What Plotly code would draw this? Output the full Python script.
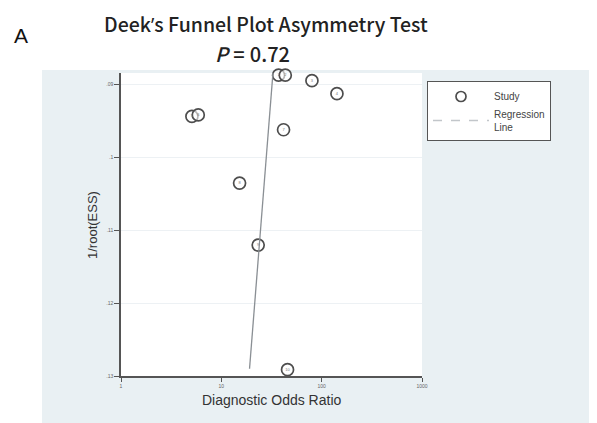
import plotly.graph_objects as go

# Data
study_dor = [37.2, 43.4, 80.0, 142.0, 5.09, 5.89, 41.7, 15.2, 23.3, 45.7]
study_inv_sqrt_ess = [0.0887, 0.0887, 0.08945, 0.09124, 0.09436, 0.09416, 0.09619, 0.10351, 0.11203, 0.12913]
study_labels = ["1", "2", "3", "4", "5", "6", "7", "8", "9", "10"]

reg_dor = [34.2, 19.1]
reg_inv_sqrt_ess = [0.085, 0.129]

x_tickvals = [1, 10, 100, 1000]
x_ticktext = ["1", "10", "100", "1000"]
y_tickvals = [0.09, 0.10, 0.11, 0.12, 0.13]
y_ticktext = [".09", ".1", ".11", ".12", ".13"]

fig = go.Figure()

fig.add_trace(go.Scatter(
    x=study_dor, y=study_inv_sqrt_ess, mode="markers+text",
    text=study_labels, textposition="middle center",
    textfont=dict(size=4, color="#777777", family="Liberation Sans"),
    marker=dict(symbol="circle", size=12, color="rgba(255,255,255,0.6)",
                line=dict(color="#4d4d4d", width=1.7)),
    name="Study", showlegend=False, cliponaxis=False,
))
fig.add_trace(go.Scatter(
    x=[None], y=[None], mode="markers",
    marker=dict(symbol="circle-open", size=10, color="#4d4d4d", line=dict(width=1.7)),
    name="Study", showlegend=True,
))
fig.add_trace(go.Scatter(
    x=reg_dor, y=reg_inv_sqrt_ess, mode="lines",
    line=dict(color="#8a8f94", width=1.3),
    name="Regression Line", showlegend=False,
))
fig.add_trace(go.Scatter(
    x=[None], y=[None], mode="lines",
    line=dict(color="#c2c6ca", width=1.3, dash="dash"),
    name="Regression<br>Line", showlegend=True,
))

OFF = 8  # page body margin
W, H = 597, 423
# desired page-pixel geometry of the plot area
P_L, P_R, P_T, P_B = 121, 422, 73, 376
L, T = P_L - OFF, P_T - OFF
R = W - (P_R - OFF)
B = H - (P_B - OFF)
pw, ph = W - L - R, H - T - B

def px_x(p):
    return (p - OFF - L) / pw

def px_y(p):
    return (H - B - (p - OFF)) / ph

panel = "#e9f0f3"
fig.add_shape(type="rect", xref="paper", yref="paper",
              x0=px_x(42), x1=px_x(640), y0=px_y(460), y1=px_y(70),
              fillcolor=panel, line=dict(width=0), layer="below")
fig.add_shape(type="rect", xref="paper", yref="paper",
              x0=0, x1=1, y0=0, y1=1,
              fillcolor="white", line=dict(width=0), layer="below")

fig.update_xaxes(type="log", range=[0, 3], tickvals=x_tickvals, ticktext=x_ticktext,
                 showgrid=False, zeroline=False, showline=True, linecolor="#555555",
                 linewidth=1.5, ticks="outside", ticklen=4, tickcolor="#555555",
                 tickfont=dict(size=5, color="#666666", family="Liberation Sans"))
fig.update_yaxes(range=[0.13, 0.0884], tickvals=y_tickvals, ticktext=y_ticktext,
                 showgrid=True, gridcolor="#edf1f4", gridwidth=1, zeroline=False,
                 showline=True, linecolor="#555555", linewidth=1.5,
                 ticks="outside", ticklen=5, tickcolor="#555555",
                 tickfont=dict(size=5, color="#666666", family="Liberation Sans"))

title_font = dict(size=19.5, color="#222222", family="Noto Sans CJK SC", weight=500)
p_font = dict(size=20, color="#222222", family="Noto Sans CJK SC", weight=500)
sp = "<span style=\"font-family:Open Sans\"> </span>"
annotations = [
    dict(text="A", x=px_x(21), y=px_y(36), font=dict(size=21, color="#111111", family="Liberation Sans")),
    dict(text="Deek<span style=\"font-family:Open Sans\">’</span>s Funnel Plot Asymmetry Test",
         x=px_x(266), y=px_y(23), font=title_font),
    dict(text="<i>P</i>" + sp + "=" + sp + "0.72", x=px_x(252), y=px_y(53), font=p_font),
    dict(text="Diagnostic Odds Ratio", x=px_x(272), y=px_y(400),
         font=dict(size=14, color="#333333", family="Liberation Sans")),
    dict(text="1/root(ESS)", x=px_x(92), y=px_y(225), textangle=-90,
         font=dict(size=13, color="#333333", family="Liberation Sans")),
]
for a in annotations:
    a.update(xref="paper", yref="paper", showarrow=False, xanchor="center", yanchor="middle")
fig.update_layout(annotations=annotations)

fig.update_layout(
    width=W, height=H, autosize=False,
    margin=dict(l=L, r=R, t=T, b=B, pad=0),
    paper_bgcolor="white", plot_bgcolor="white",
    showlegend=True,
    legend=dict(x=px_x(427), y=px_y(81), xanchor="left", yanchor="top",
                bgcolor="white", bordercolor="#555555", borderwidth=1,
                font=dict(size=10, color="#444444", family="Liberation Sans"),
                itemwidth=56, tracegroupgap=0),
)

fig.write_html("out.html")
